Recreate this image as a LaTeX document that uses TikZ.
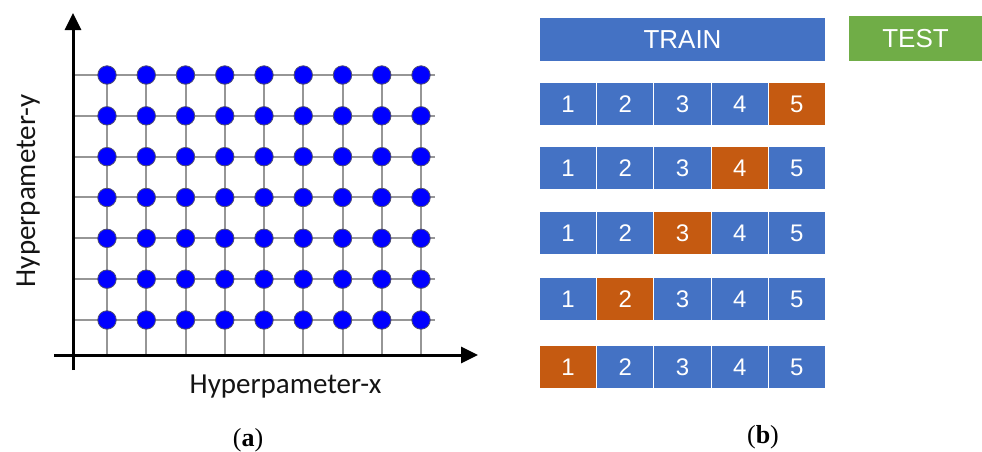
\documentclass[tikz,border=0pt]{standalone}
\usepackage{fontspec}
\setmainfont{Liberation Serif}
\newfontfamily\axislabelfont{Carlito}
\newfontfamily\boxfont{Liberation Sans}
\usetikzlibrary{arrows.meta}

\definecolor{foldblue}{HTML}{4472C4}
\definecolor{foldorange}{HTML}{C55A11}
\definecolor{testgreen}{HTML}{70AD47}
\definecolor{dotblue}{RGB}{0,0,255}
\definecolor{gridgray}{RGB}{150,150,150}
\definecolor{dotrim}{RGB}{80,80,110}

\tikzset{
  gridline/.style={draw=gridgray, line width=2pt},
  axisline/.style={draw=black, line width=3pt, -{Triangle[length=17pt,width=16pt]}},
  gridpoint/.style={circle, fill=dotblue, draw=dotrim, line width=0.8pt,
    minimum size=18.5pt, inner sep=0pt},
  axislabel/.style={font=\axislabelfont\fontsize{29}{34}\selectfont, text=black!92},
  foldcell/.style={fill=foldblue, draw=white, line width=1pt, anchor=north west,
    minimum width=57.2pt, minimum height=43pt, inner sep=0pt, text=white,
    font=\boxfont\fontsize{24}{28}\selectfont},
  heldout/.style={fill=foldorange},
  bigbox/.style={draw=white, line width=1pt, anchor=north west, inner sep=0pt,
    text=white, font=\boxfont\fontsize{26}{30}\selectfont},
  caption/.style={anchor=base, font=\fontsize{26}{30}\selectfont}
}

\begin{document}
\begin{tikzpicture}[x=1pt, y=-1pt]
\useasboundingbox (0,0) rectangle (982,451);

% ---------- (a) grid search ----------
% grid lines
\foreach \j in {0,...,6} {
  \coordinate (hl-\j) at (73, 75+40.83*\j);
  \coordinate (hr-\j) at (435, 75+40.83*\j);
  \draw[gridline] (hl-\j) -- (hr-\j);
}
\foreach \i in {0,...,8} {
  \coordinate (vt-\i) at (107+39.25*\i, 75);
  \coordinate (vb-\i) at (107+39.25*\i, 355);
  \draw[gridline] (vt-\i) -- (vb-\i);
}

% axes
\coordinate (ybot) at (73,370);
\coordinate (ytop) at (73,13);
\coordinate (xleft) at (54,355);
\coordinate (xright) at (478,355);
\draw[axisline] (ybot) -- (ytop);
\draw[axisline] (xleft) -- (xright);

% grid points
\foreach \i in {0,...,8} {
  \foreach \j in {0,...,6} {
    \node[gridpoint] (p-\i-\j) at (107+39.25*\i, 75+40.83*\j) {};
  }
}

% axis labels
\node[axislabel, anchor=base] (xlab) at (285.5,393) {Hyperpameter-x};
\node[axislabel, anchor=base, rotate=90] (ylab) at (35,191) {Hyperpameter-y};

\node[caption] (capa) at (248,446) {(\textbf{a})};

% ---------- (b) k-fold cross-validation ----------
\node[bigbox, fill=foldblue, minimum width=286pt, minimum height=44pt]
  (train) at (539,17) {TRAIN};
\node[bigbox, fill=testgreen, minimum width=134pt, minimum height=46pt]
  (test) at (848,15) {TEST};

\foreach \r/\top/\held in {1/82/5, 2/146/4, 3/211/3, 4/277/2, 5/345/1} {
  \foreach \k in {1,...,5} {
    \ifnum\k=\held
      \node[foldcell, heldout] (f-\r-\k) at (539+57.2*\k-57.2, \top) {\k};
    \else
      \node[foldcell] (f-\r-\k) at (539+57.2*\k-57.2, \top) {\k};
    \fi
  }
}

\node[caption] (capb) at (763,443) {(\textbf{b})};
\end{tikzpicture}
\end{document}
